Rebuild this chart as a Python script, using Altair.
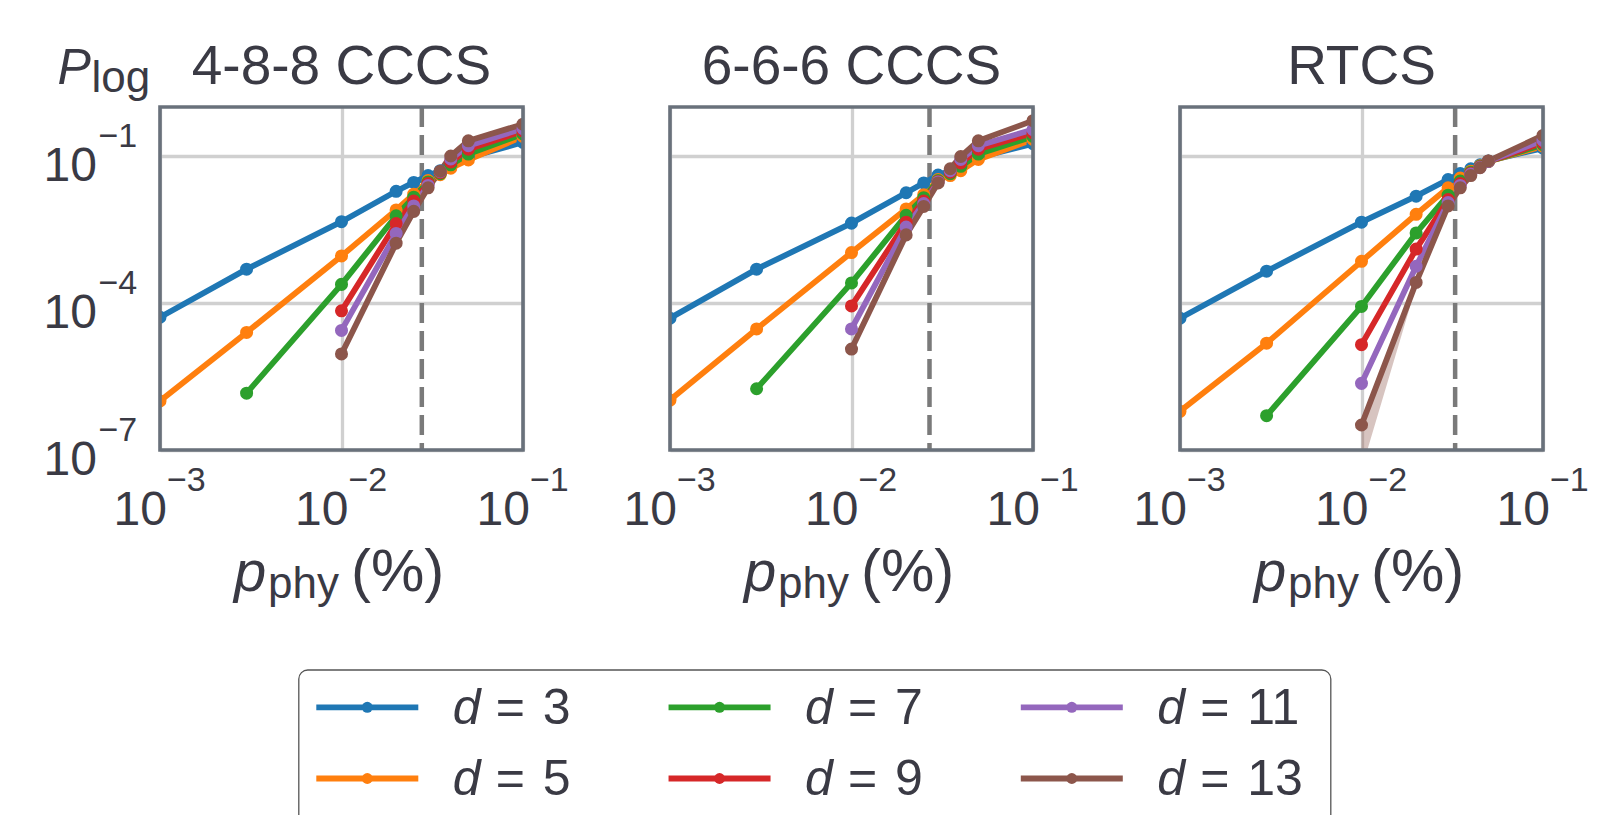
import altair as alt
import pandas as pd

# ---------------- data ----------------
DS = [3, 5, 7, 9, 11, 13]
COLORS = ["#1f77b4", "#ff7f0e", "#2ca02c", "#d62728", "#9467bd", "#8c564b"]

TITLES = ["4-8-8 CCCS", "6-6-6 CCCS", "RTCS"]
THRESHOLDS = [0.0277, 0.0269, 0.0328]

P_CCCS = [0.001, 0.003, 0.01, 0.02, 0.025, 0.03, 0.035, 0.04, 0.05, 0.1]
P_RTCS = [0.001, 0.003, 0.01, 0.02, 0.03, 0.035, 0.04, 0.045, 0.05, 0.1]

# log10(P_log); None = no point
L488_D3 = [-4.29, -3.31, -2.34, -1.72, -1.54, -1.40, -1.30, -1.20, -1.03, -0.72]
L488_D5 = [-6.00, -4.60, -3.04, -2.10, -1.78, -1.50, -1.38, -1.25, -1.08, -0.60]
L488_D7 = [None, -5.84, -3.62, -2.22, -1.84, -1.53, -1.36, -1.18, -0.96, -0.55]
L488_D9 = [None, None, -4.16, -2.38, -1.92, -1.56, -1.34, -1.12, -0.86, -0.49]
L488_D11 = [None, None, -4.56, -2.58, -2.02, -1.60, -1.32, -1.06, -0.79, -0.44]
L488_D13 = [None, None, -5.04, -2.78, -2.13, -1.65, -1.31, -1.00, -0.69, -0.35]

L666_D3 = [-4.31, -3.31, -2.37, -1.75, -1.55, -1.39, -1.30, -1.22, -1.03, -0.75]
L666_D5 = [-5.98, -4.53, -2.97, -2.08, -1.79, -1.48, -1.40, -1.30, -1.07, -0.66]
L666_D7 = [None, -5.75, -3.59, -2.21, -1.85, -1.50, -1.36, -1.21, -0.96, -0.60]
L666_D9 = [None, None, -4.06, -2.35, -1.92, -1.52, -1.33, -1.14, -0.86, -0.53]
L666_D11 = [None, None, -4.53, -2.45, -1.97, -1.53, -1.30, -1.07, -0.79, -0.46]
L666_D13 = [None, None, -4.94, -2.61, -2.03, -1.55, -1.26, -1.01, -0.69, -0.28]

LRT_D3 = [-4.31, -3.35, -2.35, -1.82, -1.48, -1.36, -1.26, -1.18, -1.10, -0.84]
LRT_D5 = [-6.21, -4.82, -3.15, -2.19, -1.65, -1.45, -1.31, -1.20, -1.11, -0.80]
LRT_D7 = [None, -6.30, -4.07, -2.57, -1.80, -1.51, -1.33, -1.21, -1.11, -0.77]
LRT_D9 = [None, None, -4.85, -2.90, -1.89, -1.56, -1.35, -1.22, -1.11, -0.73]
LRT_D11 = [None, None, -5.64, -3.25, -1.95, -1.60, -1.37, -1.23, -1.11, -0.68]
LRT_D13 = [None, None, -6.49, -3.58, -2.02, -1.65, -1.40, -1.24, -1.10, -0.58]

# visible confidence band of RTCS d=13
BAND_RT_P = [0.01, 0.02, 0.03]
BAND_RT_LO = [-7.40, -3.66, -2.05]
BAND_RT_HI = [-6.38, -3.53, -2.00]

XTICKS = [0.001, 0.01, 0.1]
XTICK_EXP = ["\u22123", "\u22122", "\u22121"]
YTICKS = [1e-7, 1e-4, 1e-1]
YTICK_EXP = ["\u22127", "\u22124", "\u22121"]

# ---------------- styling ----------------
W, H = 363, 343
FONT = "Liberation Sans"
TEXT = "#3a3a44"
FRAME = "#69717b"
GRID = "#d0d0d0"
FS = 50

xscale = alt.Scale(type="log", domain=[1e-3, 1e-1], nice=False)
yscale = alt.Scale(type="log", domain=[1e-7, 1], nice=False)
xaxis = alt.Axis(values=XTICKS, grid=True, labels=False, ticks=False, domain=False,
                 title=None, gridColor=GRID, gridWidth=3.3)
yaxis = alt.Axis(values=YTICKS, grid=True, labels=False, ticks=False, domain=False,
                 title=None, gridColor=GRID, gridWidth=3.3)
color = alt.Color("d:N", scale=alt.Scale(domain=DS, range=COLORS), legend=None)


def X():
    return alt.X("p:Q", scale=xscale, axis=xaxis)


def Y():
    return alt.Y("P:Q", scale=yscale, axis=yaxis)


one = pd.DataFrame({"k": [0]})


def txt(text, x, y, size=FS, italic=False, align="left"):
    kw = dict(text=text, font=FONT, fontSize=size, color=TEXT, align=align,
              baseline="alphabetic")
    if italic:
        kw["fontStyle"] = "italic"
    return alt.Chart(one).mark_text(**kw).encode(x=alt.value(x), y=alt.value(y))


def panel(i, ps, series, first, band=None):
    rows = []
    for d, ls in zip(DS, series):
        for p, l in zip(ps, ls):
            if l is not None:
                rows.append({"p": p, "P": 10 ** l, "d": d})
    df = pd.DataFrame(rows)
    layers = []
    layers.append(
        alt.Chart(pd.DataFrame({"p": [THRESHOLDS[i]]}))
        .mark_rule(color="#7a7a7a", strokeWidth=4.5, strokeDash=[20, 8])
        .encode(x=X())
    )
    if band is not None:
        bp, blo, bhi = band
        bdf = pd.DataFrame({"p": bp, "P": [10 ** v for v in blo],
                            "P2": [10 ** v for v in bhi], "d": [13] * len(bp)})
        layers.append(
            alt.Chart(bdf).mark_area(opacity=0.35, clip=True)
            .encode(x=X(), y=Y(), y2="P2:Q", color=color)
        )
    layers.append(
        alt.Chart(df).mark_line(strokeWidth=5.8, clip=True)
        .encode(x=X(), y=Y(), color=color, detail="d:N")
    )
    layers.append(
        alt.Chart(df).mark_circle(size=170, opacity=1, clip=True)
        .encode(x=X(), y=Y(), color=color)
    )
    layers.append(
        alt.Chart(one).mark_rect(filled=False, stroke=FRAME, strokeWidth=3.6)
        .encode(x=alt.value(0), x2=alt.value(W), y=alt.value(0), y2=alt.value(H))
    )
    # x tick labels
    xt = pd.DataFrame({"p": XTICKS, "sup": XTICK_EXP})
    layers.append(
        alt.Chart(xt).mark_text(text="10", font=FONT, fontSize=48, color=TEXT,
                                align="right", baseline="alphabetic", dx=7)
        .encode(x=X(), y=alt.value(H + 74.5))
    )
    layers.append(
        alt.Chart(xt).mark_text(font=FONT, fontSize=34, color=TEXT,
                                align="left", baseline="alphabetic", dx=7)
        .encode(x=X(), y=alt.value(H + 40.5), text="sup:N")
    )
    # title
    layers.append(txt(TITLES[i], W / 2, -23, size=55, align="center"))
    # x axis title
    layers.append(txt("p", 74, H + 141, size=58, italic=True))
    layers.append(txt("phy", 108, H + 148, size=44))
    layers.append(txt("(%)", 191, H + 141, size=60))
    if first:
        yt = pd.DataFrame({"P": YTICKS, "sup": YTICK_EXP})
        layers.append(
            alt.Chart(yt).mark_text(text="10", font=FONT, fontSize=48, color=TEXT,
                                    align="right", baseline="alphabetic", dx=-63, dy=25)
            .encode(y=Y(), x=alt.value(0))
        )
        layers.append(
            alt.Chart(yt).mark_text(font=FONT, fontSize=34, color=TEXT,
                                    align="left", baseline="alphabetic", dx=-61.5, dy=-9)
            .encode(y=Y(), x=alt.value(0), text="sup:N")
        )
        layers.append(txt("P", -102.5, -23, italic=True))
        layers.append(txt("log", -68.5, -14.7, size=44))
    return alt.layer(*layers).properties(width=W, height=H)


p1 = panel(0, P_CCCS, [L488_D3, L488_D5, L488_D7, L488_D9, L488_D11, L488_D13], True)
p2 = panel(1, P_CCCS, [L666_D3, L666_D5, L666_D7, L666_D9, L666_D11, L666_D13], False)
p3 = panel(2, P_RTCS, [LRT_D3, LRT_D5, LRT_D7, LRT_D9, LRT_D11, LRT_D13], False,
           band=(BAND_RT_P, BAND_RT_LO, BAND_RT_HI))

top = alt.hconcat(p1, p2, p3, spacing=147, bounds="flush")

# ---------------- legend ----------------
leg = pd.DataFrame({
    "d": DS,
    "col": [k // 2 for k in range(len(DS))],
    "row": [k % 2 for k in range(len(DS))],
    "num": [str(d) for d in DS],
})
LX = alt.X("col:Q", scale=alt.Scale(domain=[0, 2], range=[207.3, 911.8]), axis=None)
LY = alt.Y("row:Q", scale=alt.Scale(domain=[0, 1], range=[37.3, 108.5]), axis=None)
LW = 1200
legend = alt.layer(
    alt.Chart(one).mark_rect(filled=False, stroke="#555555", strokeWidth=1.3, cornerRadius=9)
    .encode(x=alt.value(138.8), x2=alt.value(1170.8), y=alt.value(0), y2=alt.value(175)),
    alt.Chart(leg).mark_point(shape="M-1,0H1", filled=False, size=10404, strokeWidth=5.8,
                              opacity=1).encode(x=LX, y=LY, color=color),
    alt.Chart(leg).mark_circle(size=120, opacity=1).encode(x=LX, y=LY, color=color),
    alt.Chart(leg).mark_text(text="d", font=FONT, fontSize=FS, fontStyle="italic", color=TEXT,
                             align="left", baseline="alphabetic", dx=85.5, dy=16.7)
    .encode(x=LX, y=LY),
    alt.Chart(leg).mark_text(text="=", font=FONT, fontSize=FS, color=TEXT,
                             align="left", baseline="alphabetic", dx=128.5, dy=16.7)
    .encode(x=LX, y=LY),
    alt.Chart(leg).mark_text(font=FONT, fontSize=FS, color=TEXT,
                             align="left", baseline="alphabetic", dx=175.5, dy=16.7)
    .encode(x=LX, y=LY, text="num:N"),
).properties(width=LW, height=150)

chart = (
    alt.vconcat(top, legend, spacing=62)
    .properties(padding={"left": 35, "top": 32, "right": 5, "bottom": 5})
    .configure(font=FONT, background="white")
    .configure_view(stroke="transparent", strokeWidth=0)
)

chart.save("out.html", embed_options={"renderer": "svg", "actions": False})
